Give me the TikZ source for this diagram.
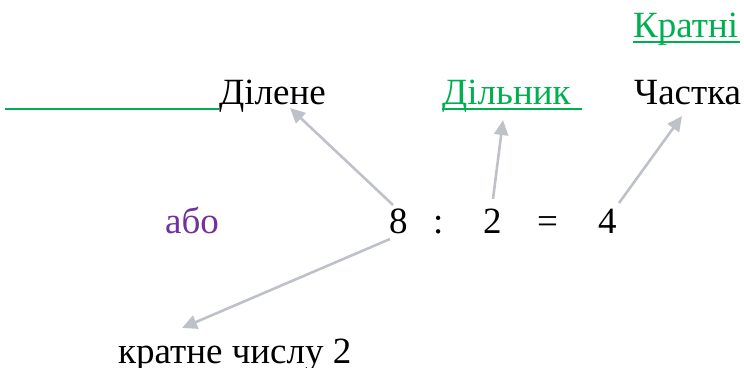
\documentclass[tikz,border=0pt]{standalone}
\usepackage{fontspec}
\setmainfont{Liberation Serif}
\usetikzlibrary{arrows.meta}
\definecolor{ogreen}{HTML}{00B050}
\definecolor{opurple}{HTML}{7030A0}
\definecolor{agray}{HTML}{BEC2C8}
\begin{document}
\begin{tikzpicture}[x=1pt,y=-1pt,
  txt/.style={anchor=base west,inner sep=0pt,font=\fontsize{37}{44}\selectfont},
  uline/.style={draw=ogreen,line width=2.4pt},
  arr/.style={draw=agray,line width=2.6pt,-{Triangle[length=15pt,width=14pt]}}]
\useasboundingbox (0,0) rectangle (744,367);
% top row
\node[txt,text=ogreen] (kratni) at (633,37) {Кратні};
\node[txt] (dilene) at (219,104) {Ділене};
\node[txt,text=ogreen] (dilnyk) at (442,104) {Дільник};
\node[txt] (chastka) at (634,104) {Частка};
% equation row
\node[txt,text=opurple] (abo) at (165,233) {або};
\node[txt] (n8) at (389,233) {8};
\node[txt] (colon) at (433,233) {:};
\node[txt] (n2) at (483,233) {2};
\node[txt] (eq) at (537,233) {=};
\node[txt] (n4) at (598,233) {4};
% bottom
\node[txt] (kratne) at (118,363) {кратне числу 2};
% underlines
\coordinate (ku1) at (633,42); \coordinate (ku2) at (740,42);
\draw[uline] (ku1) -- (ku2);
\coordinate (gl1) at (5,109);
\draw[uline] (gl1) -- (gl1 -| dilene.west);
\coordinate (du1) at (442,109); \coordinate (du2) at (582,109);
\draw[uline] (du1) -- (du2);
% arrows
\coordinate (t1) at (393,205); \coordinate (h1) at (290,108);
\coordinate (t2) at (493,199); \coordinate (h2) at (503,120);
\coordinate (t3) at (619,203); \coordinate (h3) at (682,116);
\coordinate (t4) at (390,239); \coordinate (h4) at (182,328);
\draw[arr] (t1) -- (h1);
\draw[arr] (t2) -- (h2);
\draw[arr] (t3) -- (h3);
\draw[arr] (t4) -- (h4);
\end{tikzpicture}
\end{document}
